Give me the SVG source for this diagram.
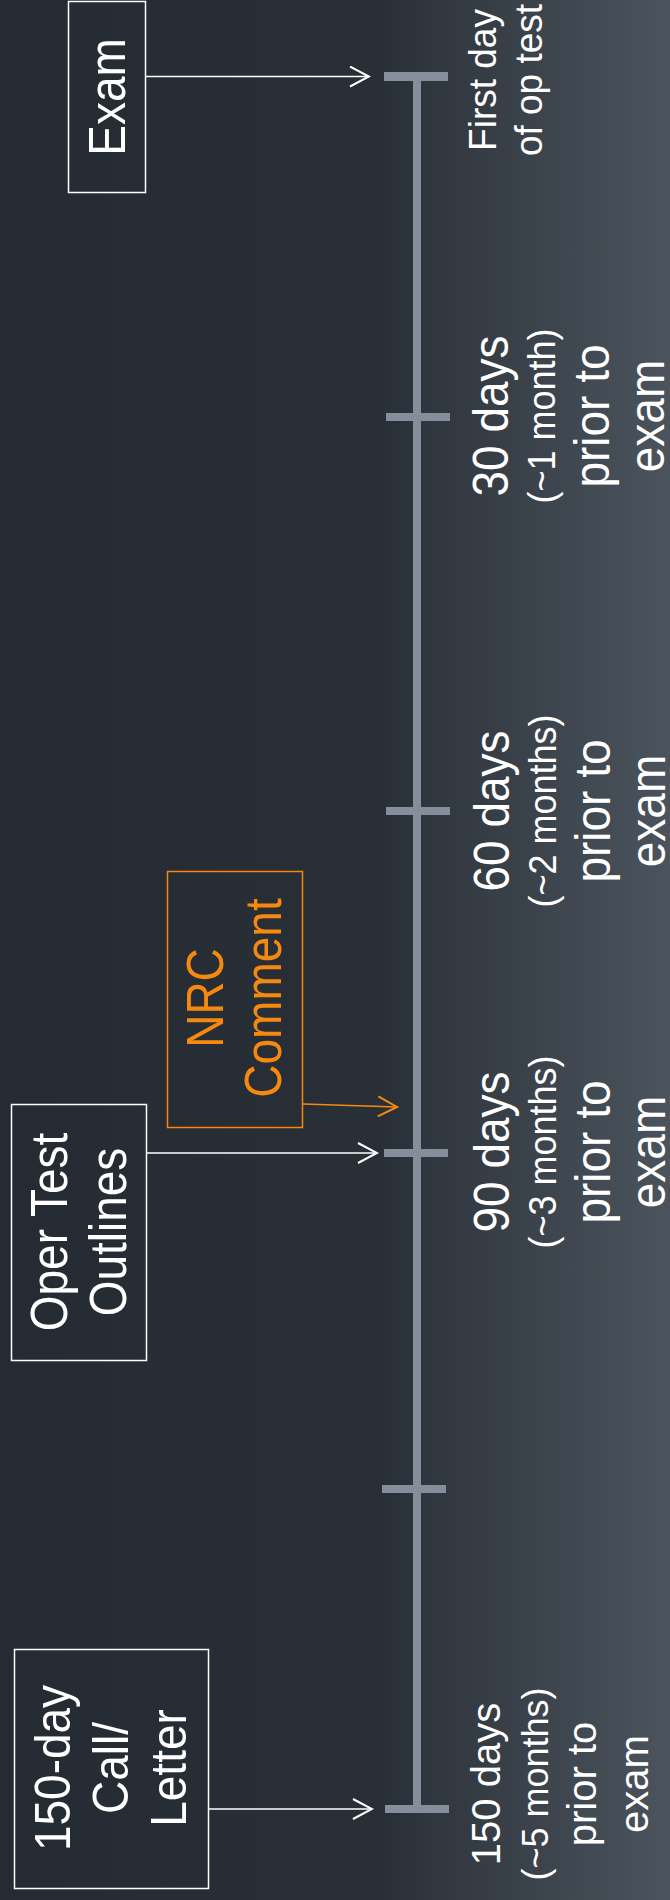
<svg xmlns="http://www.w3.org/2000/svg" width="670" height="1900" viewBox="0 0 670 1900">
  <defs>
    <linearGradient id="bg" x1="0" y1="0" x2="1" y2="0">
      <stop offset="0" stop-color="#252b33"/>
      <stop offset="0.57" stop-color="#292f37"/>
      <stop offset="0.64" stop-color="#2f363e"/>
      <stop offset="1" stop-color="#4b535c"/>
    </linearGradient>
    <marker id="arrW" viewBox="0 0 22 22" refX="20" refY="11" markerWidth="22" markerHeight="22" markerUnits="userSpaceOnUse" orient="auto">
      <path d="M1,1 L20,11 L1,21" fill="none" stroke="#ffffff" stroke-width="2"/>
    </marker>
    <marker id="arrO" viewBox="0 0 22 22" refX="20" refY="11" markerWidth="22" markerHeight="22" markerUnits="userSpaceOnUse" orient="auto">
      <path d="M1,1 L20,11 L1,21" fill="none" stroke="#f5890f" stroke-width="2"/>
    </marker>
  </defs>
  <style>
    text { font-family: "Liberation Sans", Arial, sans-serif; fill: #ffffff; text-anchor: middle; }
    .box { fill: none; stroke: #ffffff; stroke-width: 1.5; }
    .obox { fill: none; stroke: #f5890f; stroke-width: 1.5; }
    .orange { fill: #f5890f; }
    .big { font-size: 46px; }
    .sub { font-size: 36px; }
    .small { font-size: 37px; }
    .mid { font-size: 40px; }
    .tl { fill: #868e9b; }
    .conn { fill: none; stroke: #ffffff; stroke-width: 1.5; marker-end: url(#arrW); }
    .oconn { fill: none; stroke: #f5890f; stroke-width: 1.5; marker-end: url(#arrO); }
  </style>
  <rect x="0" y="0" width="670" height="1900" fill="url(#bg)"/>

  <g id="timeline">
    <rect class="tl" x="413" y="76" width="8" height="1733"/>
    <rect class="tl" x="384" y="72" width="64" height="9"/>
    <rect class="tl" x="386" y="413" width="64" height="8"/>
    <rect class="tl" x="386" y="807" width="64" height="8"/>
    <rect class="tl" x="384" y="1149" width="64" height="8"/>
    <rect class="tl" x="382" y="1485" width="64" height="8"/>
    <rect class="tl" x="385" y="1805" width="64" height="8"/>
  </g>

  <g id="label-first-day">
    <text class="small" transform="translate(496,80) rotate(-90) scale(1,1.03)">First day</text>
    <text class="small" transform="translate(542,80) rotate(-90) scale(1,1.03)">of op test</text>
  </g>
  <g id="label-30">
    <text class="big" transform="translate(508,416) rotate(-90) scale(1,1.07)">30 days</text>
    <text class="sub" transform="translate(555,416) rotate(-90) scale(1,1.08)">(~1 month)</text>
    <text class="big" transform="translate(609,416) rotate(-90) scale(1,1.07)">prior to</text>
    <text class="big" transform="translate(664,416) rotate(-90) scale(1,1.07)">exam</text>
  </g>
  <g id="label-60">
    <text class="big" transform="translate(509,811) rotate(-90) scale(1,1.07)">60 days</text>
    <text class="sub" transform="translate(556,811) rotate(-90) scale(1,1.08)">(~2 months)</text>
    <text class="big" transform="translate(610,811) rotate(-90) scale(1,1.07)">prior to</text>
    <text class="big" transform="translate(665,811) rotate(-90) scale(1,1.07)">exam</text>
  </g>
  <g id="label-90">
    <text class="big" transform="translate(509,1152) rotate(-90) scale(1,1.07)">90 days</text>
    <text class="sub" transform="translate(556,1152) rotate(-90) scale(1,1.08)">(~3 months)</text>
    <text class="big" transform="translate(610,1152) rotate(-90) scale(1,1.07)">prior to</text>
    <text class="big" transform="translate(665,1152) rotate(-90) scale(1,1.07)">exam</text>
  </g>
  <g id="label-150">
    <text class="mid" transform="translate(500,1784) rotate(-90) scale(1,1.03)">150 days</text>
    <text class="sub" transform="translate(548,1784) rotate(-90) scale(1,1.03)">(~5 months)</text>
    <text class="mid" transform="translate(596,1784) rotate(-90) scale(1,1.03)">prior to</text>
    <text class="mid" transform="translate(648,1784) rotate(-90) scale(1,1.03)">exam</text>
  </g>

  <g id="node-exam">
    <rect class="box" x="68.5" y="1.5" width="77" height="191"/>
    <text class="big" transform="translate(125,97) rotate(-90) scale(1,1.12)">Exam</text>
  </g>
  <g id="node-oper-test">
    <rect class="box" x="11.5" y="1104.5" width="135" height="256"/>
    <text class="big" transform="translate(67,1232) rotate(-90) scale(1,1.12)">Oper Test</text>
    <text class="big" transform="translate(126,1232) rotate(-90) scale(1,1.12)">Outlines</text>
  </g>
  <g id="node-nrc-comment">
    <rect class="obox" x="167.5" y="871.5" width="135" height="256"/>
    <text class="big orange" transform="translate(223,998) rotate(-90) scale(1,1.12)">NRC</text>
    <text class="big orange" transform="translate(281,998) rotate(-90) scale(1,1.12)">Comment</text>
  </g>
  <g id="node-150-day">
    <rect class="box" x="14.5" y="1649.5" width="194" height="239"/>
    <text class="big" transform="translate(70,1768) rotate(-90) scale(1,1.1)">150-day</text>
    <text class="big" transform="translate(128,1768) rotate(-90) scale(1,1.1)">Call/</text>
    <text class="big" transform="translate(186,1768) rotate(-90) scale(1,1.1)">Letter</text>
  </g>

  <g id="connectors">
    <path class="conn" d="M146,76.5 L369,76.5"/>
    <path class="conn" d="M147,1153 L377,1153"/>
    <path class="oconn" d="M303,1104 L397,1107"/>
    <path class="conn" d="M209,1809 L372,1809"/>
  </g>
</svg>
